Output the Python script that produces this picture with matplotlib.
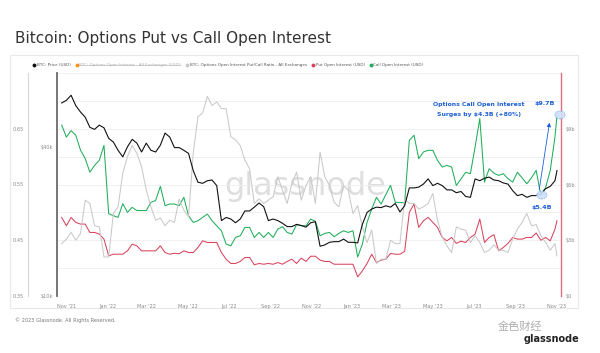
import matplotlib
matplotlib.use("Agg")
import matplotlib.pyplot as plt
import matplotlib.dates as mdates
from matplotlib.lines import Line2D
from matplotlib.patches import Ellipse, Rectangle, FancyArrowPatch
import pandas as pd

# weekly samples (last point = final day shown)
dates = pd.date_range("2021-10-25", periods=106, freq="7D").append(pd.DatetimeIndex(["2023-11-02"]))

btc_price_k = [
    60.5, 62, 65, 59, 55.6, 53, 48.2, 47.3, 49.2, 48,
    43.5, 42, 38.9, 36.6, 40.2, 43.1, 41.6, 38.3, 41.6, 38.9,
    38.3, 40.8, 45.7, 44, 39.9, 39.9, 38.9, 37.8, 32.2, 28.9,
    28.6, 29.3, 29.5, 28, 20.2, 20.8, 20.5, 19.8, 20.5, 22.1,
    22.1, 22.9, 23.8, 23, 20.2, 20.5, 20.2, 19.7, 19.1, 19.1,
    19.5, 19.3, 19, 19.8, 20, 15.9, 16.1, 16.5, 16.6, 16.6,
    17, 16.5, 16.5, 16.4, 19.5, 21.8, 22.5, 22.9, 22.8, 23.2,
    22.9, 23.7, 21.9, 23.2, 27.4, 27.4, 27.6, 28.4, 29.8, 28,
    28.6, 28, 26.9, 26.9, 26.2, 26.5, 25.3, 25.1, 29.8, 29.3,
    30, 30.3, 29.5, 29.3, 28.7, 28.4, 26.7, 25.5, 25.8, 25.1,
    25.5, 25.5, 26, 27.2, 27.8, 29.3, 32.2,
]

call_oi_b = [
    9.2, 8.55, 8.9, 8.65, 7.85, 7.4, 6.66, 7.03, 7.3, 8.1,
    4.43, 4.32, 4.23, 4.97, 4.5, 4.77, 4.6, 4.6, 4.6, 5.04,
    5.14, 5.9, 4.86, 4.95, 4.95, 4.86, 5.31, 4.32, 3.96, 4.05,
    4.23, 4.41, 4.05, 3.78, 3.51, 2.79, 2.7, 3.15, 3.24, 3.69,
    3.69, 3.15, 3.42, 3.15, 3.42, 3.15, 3.6, 3.73, 3.42, 3.33,
    3.84, 3.78, 3.78, 4.14, 4.02, 3.24, 3.37, 3.42, 3.19, 3.37,
    3.51, 3.42, 3.51, 2.1, 2.79, 3.96, 4.68, 5.31, 4.95, 5.46,
    5.95, 5.04, 5.04, 5.0, 8.38, 8.65, 7.39, 7.75, 7.84, 7.84,
    7.3, 6.94, 7.03, 6.94, 5.95, 6.3, 6.66, 6.58, 8.02, 9.55,
    6.13, 6.85, 6.61, 6.49, 6.58, 6.31, 6.13, 6.66, 6.36, 6.04,
    6.36, 6.76, 5.4, 5.82, 6.76, 8.56, 9.7,
]

put_oi_b = [
    4.23, 3.78, 4.23, 3.96, 3.87, 3.87, 3.42, 3.42, 3.33, 3.06,
    2.16, 2.25, 2.25, 2.25, 2.43, 2.79, 2.7, 2.43, 2.43, 2.43,
    2.43, 2.7, 2.34, 2.25, 2.3, 2.27, 2.43, 2.34, 2.34, 2.61,
    2.97, 2.88, 2.88, 2.88, 2.34, 1.98, 1.75, 1.75, 1.86, 2.07,
    2.07, 1.68, 1.75, 1.71, 1.75, 1.71, 1.8, 1.71, 1.86, 1.98,
    1.75, 2.04, 1.86, 2.14, 2.14, 1.93, 1.86, 1.86, 1.71, 1.71,
    1.71, 1.71, 1.71, 1.03, 1.35, 1.75, 2.25, 1.8, 1.93, 1.98,
    2.29, 2.25, 2.25, 2.4, 4.5, 4.95, 3.69, 4.05, 4.23, 3.96,
    3.69, 3.15, 2.97, 3.15, 2.83, 2.95, 2.88, 3.15, 3.33, 4.14,
    2.88, 3.15, 3.3, 2.43, 2.61, 2.83, 3.15, 3.06, 3.06, 3.15,
    3.15, 3.39, 3.0, 3.15, 2.97, 3.6, 4.05,
]

put_call_ratio = [
    0.444, 0.452, 0.464, 0.45, 0.462, 0.522, 0.516, 0.476, 0.474, 0.42,
    0.42, 0.498, 0.51, 0.57, 0.6, 0.62, 0.606, 0.582, 0.54, 0.51,
    0.486, 0.49, 0.476, 0.486, 0.482, 0.524, 0.504, 0.492, 0.606, 0.672,
    0.678, 0.708, 0.692, 0.698, 0.686, 0.686, 0.636, 0.63, 0.62, 0.594,
    0.578, 0.516, 0.524, 0.516, 0.522, 0.528, 0.564, 0.54, 0.516, 0.552,
    0.572, 0.522, 0.548, 0.564, 0.516, 0.608, 0.564, 0.548, 0.518, 0.51,
    0.548, 0.54, 0.498, 0.512, 0.474, 0.446, 0.468, 0.408, 0.416, 0.416,
    0.45, 0.444, 0.444, 0.524, 0.516, 0.516, 0.506, 0.51, 0.516, 0.534,
    0.486, 0.456, 0.44, 0.428, 0.474, 0.47, 0.468, 0.446, 0.458, 0.446,
    0.428, 0.432, 0.442, 0.432, 0.432, 0.428, 0.452, 0.47, 0.482, 0.498,
    0.476, 0.478, 0.458, 0.446, 0.432, 0.444, 0.422,
]

legend_labels = [
    "BTC: Price (USD)",
    "BTC: Options Open Interest - All Exchanges (USD)",
    "BTC: Options Open Interest Put/Call Ratio - All Exchanges",
    "Put Open Interest (USD)",
    "Call Open Interest (USD)",
]

C_PRICE = "#111111"
C_TOTAL = "#f7931a"
C_RATIO = "#c9c9c9"
C_PUT = "#d9435e"
C_CALL = "#1fae5a"
C_BLUE = "#1c5fd6"
C_TICK = "#8a8a8a"

fig = plt.figure(figsize=(6, 3.53), dpi=100)
W, H = 600, 353

def fx(px):
    return px / W

def fy(py):
    return 1 - py / H

# card behind everything
card = Rectangle((fx(10), fy(308)), fx(568), fy(55) - fy(308), transform=fig.transFigure,
                 fc="white", ec="#e8e8e8", lw=0.8, zorder=-10)
fig.patches.append(card)

ax_oi = fig.add_axes([fx(57), fy(296), fx(561 - 57), fy(73) - fy(296)])
ax_price = ax_oi.twinx()
ax_ratio = ax_oi.twinx()

# OI axis (right)
ax_oi.yaxis.tick_right()
ax_oi.set_ylim(0, 12)
ax_oi.set_yticks([0, 3, 6, 9])
ax_oi.set_yticklabels(["$0", "$3b", "$6b", "$9b"])
ax_oi.set_yticks([1.5, 4.5, 7.5, 10.5, 12], minor=True)
ax_oi.grid(axis="y", which="both", color="#eeeeee", lw=0.6)
ax_oi.tick_params(axis="y", which="both", length=0, pad=3, labelsize=3.6, labelcolor=C_TICK)
for s in ["top", "left", "bottom"]:
    ax_oi.spines[s].set_visible(False)
ax_oi.spines["right"].set_color("#dc6f84")
ax_oi.spines["right"].set_linewidth(1.0)

# price axis (log, left)
ax_price.set_yscale("log")
ax_price.set_ylim(10, 80)
ax_price.yaxis.tick_left()
ax_price.set_yticks([10, 40])
ax_price.set_yticklabels(["$10k", "$40k"])
ax_price.yaxis.set_minor_locator(matplotlib.ticker.NullLocator())
ax_price.tick_params(axis="y", length=0, pad=3, labelsize=3.6, labelcolor=C_TICK)
for s in ["top", "right", "bottom"]:
    ax_price.spines[s].set_visible(False)
ax_price.spines["left"].set_color("#6b6b6b")
ax_price.spines["left"].set_linewidth(1.3)

# ratio axis (outer left)
ax_ratio.set_ylim(0.35, 0.75)
ax_ratio.yaxis.tick_left()
ax_ratio.set_yticks([0.35, 0.45, 0.55, 0.65])
ax_ratio.set_yticklabels(["0.35", "0.45", "0.55", "0.65"])
ax_ratio.tick_params(axis="y", length=0, pad=3, labelsize=3.6, labelcolor=C_TICK)
for s in ["top", "right", "bottom"]:
    ax_ratio.spines[s].set_visible(False)
ax_ratio.spines["left"].set_position(("outward", 21))
ax_ratio.spines["left"].set_color("#d8d8d8")
ax_ratio.spines["left"].set_linewidth(0.8)

# lines
ax_oi.plot(dates, put_oi_b, color=C_PUT, lw=0.75, zorder=3)
ax_oi.plot(dates, call_oi_b, color=C_CALL, lw=0.75, zorder=3)
ax_ratio.plot(dates, put_call_ratio, color=C_RATIO, lw=0.75, zorder=2)
ax_price.plot(dates, btc_price_k, color=C_PRICE, lw=0.8, zorder=4)
ax_oi.set_zorder(1)
ax_ratio.set_zorder(2)
ax_price.set_zorder(3)
for a in (ax_oi, ax_price, ax_ratio):
    a.patch.set_visible(False)

ax_oi.set_xlim(pd.Timestamp("2021-10-18"), pd.Timestamp("2023-11-08"))
ax_oi.xaxis.set_major_locator(mdates.MonthLocator(bymonth=[1, 3, 5, 7, 9, 11]))
ax_oi.xaxis.set_major_formatter(mdates.DateFormatter("%b '%y"))
ax_oi.tick_params(axis="x", length=0, pad=6, labelsize=3.6, labelcolor=C_TICK)

# watermark
fig.text(fx(305), fy(186), "glassnode", fontsize=23, color="#d6d6d6", alpha=0.8,
         ha="center", va="center", zorder=0)

# annotations
t = ax_price.transAxes
ax_price.text(0.837, 0.857, "Options Call Open Interest", transform=t, ha="center", va="center",
              color=C_BLUE, fontsize=4.4, fontweight="bold", zorder=10)
ax_price.text(0.837, 0.812, "Surges by $4.3B (+80%)", transform=t, ha="center", va="center",
              color=C_BLUE, fontsize=4.4, fontweight="bold", zorder=10)
ax_price.text(0.968, 0.862, "$9.7B", transform=t, ha="center", va="center",
              color=C_BLUE, fontsize=4.6, fontweight="bold", zorder=10)
ax_price.text(0.962, 0.395, "$5.4B", transform=t, ha="center", va="center",
              color=C_BLUE, fontsize=4.6, fontweight="bold", zorder=10)
for cx, cy in [(0.998, 0.812), (0.962, 0.453)]:
    ax_price.add_patch(Ellipse((cx, cy), 0.02, 0.035, transform=t,
                               fc="#cfe0fb", ec="#7aa6ee", ls=(0, (1.5, 1)), lw=0.6,
                               alpha=0.9, clip_on=False, zorder=9))
ax_price.add_patch(FancyArrowPatch((0.956, 0.466), (0.978, 0.789), transform=t,
                                   arrowstyle="-|>,head_length=2.2,head_width=1.2",
                                   color=C_BLUE, lw=0.6, clip_on=False, zorder=10))

# title and footer
fig.text(fx(15), fy(38), "Bitcoin: Options Put vs Call Open Interest", fontsize=11,
         color="#333333", ha="left", va="center")
fig.text(fx(15), fy(320), "\u00a9 2023 Glassnode. All Rights Reserved.", fontsize=3.6,
         color="#777777", ha="left", va="center")
fig.text(fx(552), fy(339), "glassnode", fontsize=7, color="#222222", ha="center", va="center",
         fontweight="bold")
fig.text(fx(520), fy(327), "金色财经", fontsize=8, color="#9a9a9a", ha="center", va="center",
         family=["Noto Sans CJK SC", "DejaVu Sans"], alpha=0.8)

# legend
colors = [C_PRICE, C_TOTAL, C_RATIO, C_PUT, C_CALL]
handles = [Line2D([], [], marker="o", ls="", color=c, markersize=1.8) for c in colors]
leg = fig.legend(handles, legend_labels, loc="center left", bbox_to_anchor=(fx(33), fy(65)),
                 ncol=5, frameon=False, fontsize=3.0, handletextpad=0.3, columnspacing=1.2,
                 handlelength=0.6, borderaxespad=0, borderpad=0)
for txt in leg.get_texts():
    txt.set_color("#555555")
leg.get_texts()[1].set_color("#b0b0b0")

fig.canvas.draw()
bb = leg.get_texts()[1].get_window_extent().transformed(fig.transFigure.inverted())
ym = (bb.y0 + bb.y1) / 2
fig.add_artist(Line2D([bb.x0, bb.x1], [ym, ym], transform=fig.transFigure, color="#b0b0b0", lw=0.4))

fig.savefig("out.png", dpi=100, facecolor="white")
